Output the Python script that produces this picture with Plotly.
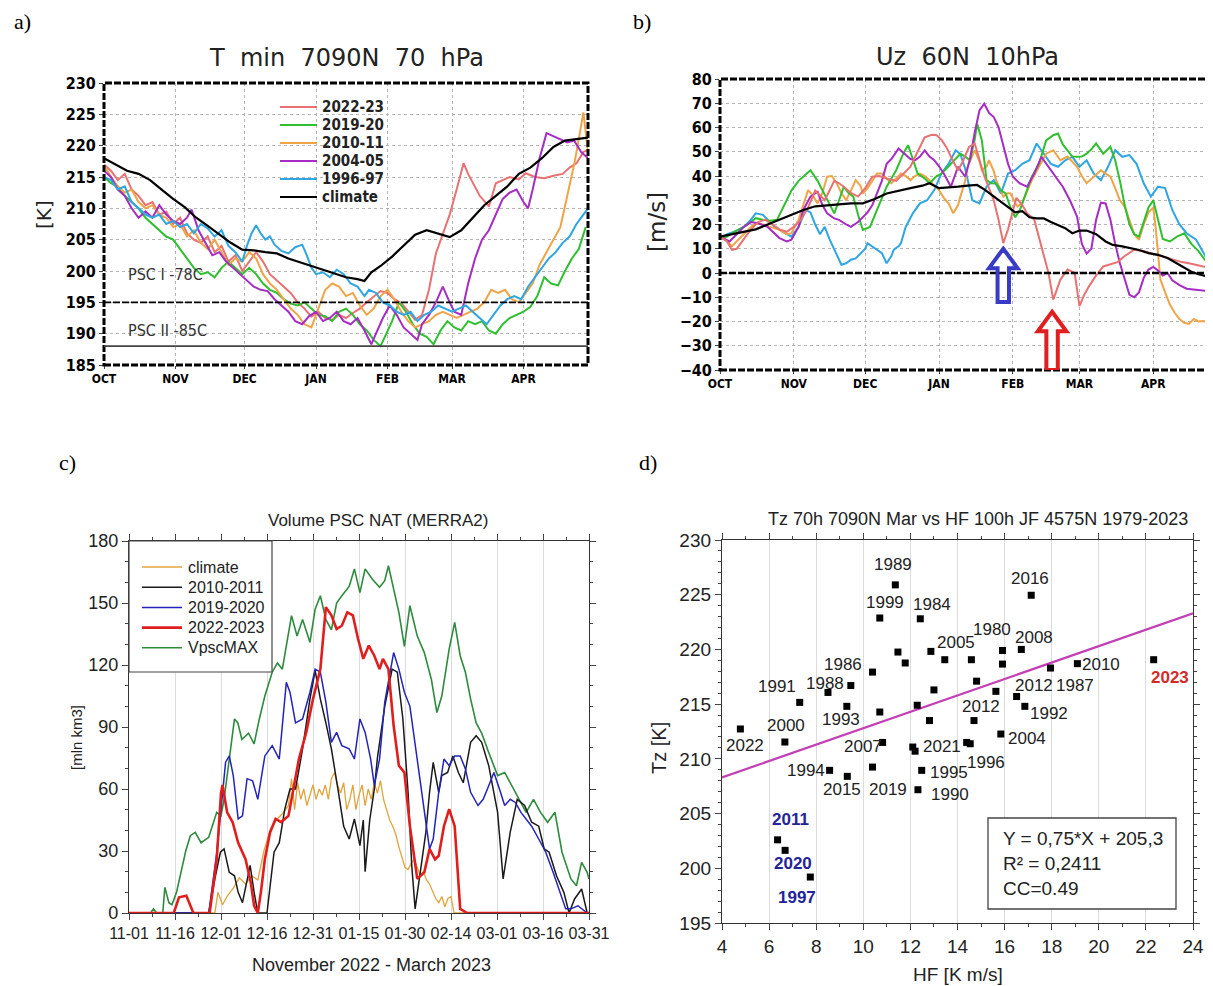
import plotly.graph_objects as go

W, H = 1213, 986          # browser window
OFF = 8                    # page body margin
FW, FH = W - OFF, H - OFF  # figure size so it fills the window

# ---------------- Panel a: T min 70 hPa (day 0 = 1 Oct) ----------------
a_days_clim = [0,5,10,15,20,25,30,35,40,45,50,55,60,65,70,75,80,85,90,95,100,105,110,113,116,120,125,130,135,140,145,150,155,160,165,170,175,180,185,190,195,200,205,210]
a_T_clim = [218,217,216,215.5,214.5,213,211.5,210.2,208.5,207.2,205.8,204.5,203.4,203.3,203.0,202.8,202.0,201.4,200.8,200.2,199.5,199.0,198.7,198.4,199.8,200.8,202.3,204.0,205.8,206.5,206.0,205.4,206.5,208.5,210.5,212.0,213.5,215.5,216.5,218.0,219.8,220.8,221.1,221.3]

a_days_2223 = [0,3,6,9,12,15,18,21,24,27,30,33,36,39,42,45,48,51,54,57,60,63,66,69,72,75,78,81,84,87,90,93,96,99,102,105,108,111,114,117,120,123,126,129,132,135,138,141,144,147,150,153,156,158,160,163,167,170,173,176,180,183,187,191,195,199,202,205,208,210]
a_T_2223 = [217,216,214.5,215.5,213,212,210.5,211,209,209.5,207.5,208.5,206,205,204.5,205.5,203,204,201.5,202.5,200,201.5,203,201.5,199.5,198.5,197.5,196.5,195,194,192.7,193.5,192.5,192.2,193,192.5,193.3,194,195,195.9,196.8,196.5,195.5,194.9,193.5,192.2,193,197,202.8,206,209,213,217.2,215.5,214,212,210.3,214,214.5,215,214.6,215.6,215,214.8,215.2,215.5,216.5,217.2,219,219.3]

a_days_1920 = [0,3,6,9,12,15,18,21,24,27,30,33,36,39,42,45,48,51,54,57,60,63,66,69,72,75,78,81,84,87,90,93,96,99,102,105,108,111,114,117,120,122,125,128,131,134,137,140,143,146,149,152,155,158,161,164,167,170,173,176,179,182,185,188,191,194,197,200,203,206,209]
a_T_1920 = [215,214,213.5,212,211,210,208.5,207.5,206.5,205.5,205,203.5,202,200.5,199.5,199.8,199,200.5,201.5,200.5,199.5,200.5,199.5,198,197,196.5,195.5,194.8,194.5,195,194,193,192.8,192,193.5,194,193,191.5,190.5,189,188,189.5,192,195,193.5,191.5,190,189.5,188.3,190.5,192,191,190.5,192,191.5,192,190.5,190,191.5,192.5,193,193.5,194.3,196,199,198,197.7,200,202,203.5,207]

a_days_1011 = [0,3,6,9,12,15,18,21,24,27,30,33,36,39,42,45,48,51,54,57,60,63,66,69,72,75,78,81,84,87,90,92,94,96,99,102,105,108,111,114,117,120,123,126,129,132,135,138,141,144,147,150,153,156,159,162,165,168,171,174,177,180,183,186,189,192,195,198,201,204,206,208,210]
a_T_1011 = [217,215,213.5,212.5,213,211,210,210.5,209,208.5,207,207.5,205.5,206.5,204.5,203.5,205,203,201,202,201.5,203,202,199.5,198,197,195.5,194,193,191.5,191,193,195,197,198,197.5,196,196.5,194.5,193,194,196,197,195.5,193.5,192,191,191.5,192,193,193.5,193,192.5,193,193.5,194,195,197,196.5,197,195.5,195,196.5,198,201,203,205,207,212,217,221,225.3,219]

a_days_0405 = [0,3,6,9,12,15,18,21,24,27,30,33,36,38,41,44,47,50,53,56,59,62,65,68,71,74,77,80,83,86,89,92,95,98,101,104,107,110,113,116,118,121,124,127,130,133,136,138,141,144,147,150,152,155,158,161,164,167,170,173,176,179,182,184,186,189,192,195,198,201,204,207,210]
a_T_0405 = [216,215,213,212,210,208.5,209.5,208.5,210.5,209,208,207.5,208.5,209.8,206.5,204.5,202.5,203,201.5,200.5,199.5,198.5,197.5,197,196.8,195.5,194.5,193.5,192,191.5,192.8,193.5,192,192.5,193.5,192,191.5,192.5,190.5,188.3,190,192.5,194.5,193,191,190,189,191.5,193,195,197.5,195,193.5,193,198,202,205,206.5,209,211.5,212.5,213,211,210,213,218,222,221.5,221,220.5,220.8,219,218]

a_days_9697 = [0,3,6,9,12,15,18,21,24,27,30,33,36,39,42,45,48,51,54,57,60,62,64,66,68,70,72,74,77,80,83,86,88,90,92,95,98,101,104,107,110,113,115,118,121,124,127,130,133,136,139,142,145,148,151,154,157,160,163,166,169,172,175,178,181,184,187,190,193,196,199,202,205,208,210]
a_T_9697 = [215,214.5,213,213.5,211,210,209,208.5,209,207.5,208,207,207.5,206,207.5,206.8,205.5,206.5,204,203,201.5,204,206,207.3,206,205,205.5,204.2,203.2,202.8,203.8,204.2,202.5,200.5,199.5,199.8,199,200.2,199.5,198,197.5,196,197,196.5,195,194.5,193.5,193,193.5,192,193,193.5,194.5,194,193.5,194,194.5,193.5,192.5,191.5,193,194.5,195.5,196,195.5,197.5,199,200.5,202,203,204.5,205.5,207.5,209,210]

psc_levels = [195, 188]
psc_labels = ["PSC I -78C", "PSC II -85C"]
month_days = [0, 31, 61, 92, 123, 151, 182]
month_labels = ["OCT", "NOV", "DEC", "JAN", "FEB", "MAR", "APR"]

# ---------------- Panel b: Uz 60N 10 hPa ----------------
b_days_clim = [0,5,10,15,20,25,31,35,40,45,50,55,60,65,70,75,80,85,88,92,96,100,104,108,111,115,118,121,124,127,130,133,136,139,142,145,148,151,154,158,162,165,169,172,176,180,184,188,191,195,198,201,204,207]
b_U_clim = [15,16,17,18,20,22,24.6,26,27.5,28,28.5,28.7,28.7,30.5,32.8,34,35,36,37,35,35.2,35.6,36,36.3,34.5,31.5,29.5,27,25,25.5,23,22.5,22.5,21,19.8,18.5,16.4,17.5,17.5,16,13,11.6,11,10.3,9.5,8.2,7.5,6.2,4.5,2,0.5,-0.5,-1.2,-1.5]

b_days_2223 = [0,3,5,7,10,13,16,19,22,25,28,31,34,37,40,42,44,46,48,50,52,55,58,61,64,67,70,74,77,80,83,86,89,91,93,95,98,100,102,104.6,107,109,111,113,115,117,119,121,123,124.5,127,129,132,135,138,140,143,146,149,151,153,155,158,161,164,167,170,174,178,181,185,190,194,197,200,203,207]
b_U_2223 = [15,13,9.5,10,14,18,21,22,20,18,17,19,22,27,34,32,30,34,38,37,35.6,33,31.5,35,39.7,40,39,38,41,43.8,50,56,57,56.8,55,52,46,42.4,46,52,53.4,47,40,35,30,22,12.3,18,26,31,28,24.6,22,11,0,-11,-2.7,1.4,0,-13.7,-9,-5.5,-1,2.7,3.5,4.5,7,9.6,9,8.2,7,5.5,4.5,4,3.5,2.7,2]

b_days_1920 = [0,3,6,10,13,15,18,21,24,27,30,33,36,38,41,43,45,48,50,52,54,56,58,60,63,66,68,70,72,74,77,79,81,83,86,88,91,93,95,97,99,101,103,105,107,108,110,112,114,116,118,120,122,124,126,128,131,134,137,140,142,144,146,148,150,152,154,156,158,161,164,166,168,170,172,174,176,178,180,182,184,186,189,192,195,198,201,204,207]
b_U_1920 = [14,15,17,19,21,22.6,22,21.5,22,28,34,38,40.5,42.4,38,34,30,24.6,30,35.6,33,31.5,24,17.8,19,26,31,35.6,39,42.4,49.2,52.7,47,41,39,37,40,41,43,45,47,49.2,48,46.5,55,61.6,54.7,38.3,37,36.9,34,32.8,27,23,26,31.5,39.7,45,54.7,56.8,57.5,53,50.6,48,47.9,48,49.2,51,53.4,49.2,52,46.5,38,28,20,16,15,21,27,30,22,14,13,15,16.4,12,9,5,3]

b_days_1011 = [0,3,5,8,10,13,15,18,21,25,28,30,33,35,37,39,41,43,45,47,49,51,53,55,57,59,60,62,64,66,68,70,72,74,76,78,80,82,84,86,88,90,92,94,96,98,100,101,103,104,106,107,109,110,112,113,115,116,118,119,121,122,124,125,127,128,131,134,137,140,143,146,148,150,152,154,157,160,162,164,166,168,170,172,174,176,178,180,182,183,185,187,189,191,193,195,197,199,201,203,205,207]
b_U_1011 = [15,13,11,14,16.4,19,20.5,20,19,17.8,16,16.4,21.9,28,34.2,32,28.7,33,39.7,40,37,33,30,34,38.3,36,32.8,35,38.3,41,41,39,37,39,41,40,38.3,40,41,40,38.3,36,34.2,31,28.7,24.6,28,31.5,38,43.8,48,50.6,46,42.4,44,46.5,42,38.3,34,31.5,33,32.8,29,27.4,29,31.5,38.3,43.8,49.2,50.6,46.5,48,46,43.8,40,37,39.7,42.4,41,39.7,35,30,27.4,22,16,13.7,20,25,27,19,-2.7,-8,-13,-16.4,-19,-20.5,-21,-19,-20,-19.8,-20.5,-21]

b_days_0405 = [0,4,7,10,13,16,20,23,25,28,30,33,35,38,41,43,45,48,50,53,55,58,60,62,64,66,68,70,72,75,78,80,82,84,86,88,90,92,94,97,100,103,105,107,109,111,113,115,117,119,121,123,126,129,132,135,138,141,144,147,150,152,154,156,158,160,162,164,166,168,170,172,174,176,178,180,182,184,186,188,190,193,196,199,202,205,207]
b_U_0405 = [15,13,16,19,21,20.5,19,16,14.4,13,13.7,19,26,31.5,33.5,28,24.6,22.5,21.9,20,19,21,23,25,28,32.8,38,45,47,51.3,48.6,47,46.5,48,50.6,48,46.5,44,41,35.6,43.8,39.7,47,58,67,69.8,66,64.3,60.2,53,45,39.7,36.9,35.6,41,47.9,43.8,39.7,35.6,30,23.3,12,8,10,22,29,28.7,22,12,4,-3,-9,-10,-8,-2,1.4,2.5,1,-1,0,-3,-5,-6.5,-6.8,-7,-7.5,-8.9]

b_days_9697 = [0,3,6,10,13,15,18,20,23,25,28,30,33,36,38,40,42,44,46,48,50,51,53,55,57,59,61,62,64,65,67,68,70,72,73,75,76,78,81,84,87,90,93,96,99,101,103,104,106,109,112,115,118,121,124,127,130,133,136,139,142,145,148,151,154,157,160,163,166,169,172,175,178,181,184,187,190,193,196,200,204,207]
b_U_9697 = [14,16,17,19,22,24.6,24,22,19,17.8,16,15,19,26,25,20,16,19,14,9.6,5,3.4,4,5.5,6,8.2,10,12.3,11,10.3,9,8.2,4,7,9.6,11,12.3,19,24.6,28.7,30,34.2,41,45,50.6,49,43,38.3,30,28.7,35.6,38.3,32.8,41,42.4,45,46.5,53.4,49.2,45,43.8,46.5,47.9,43.8,46.5,41,38.3,43.8,50.6,47.9,48.6,45,37,31.5,35.6,35,26,20,16.4,13.7,6.8,4.5]

# ---------------- Panel c: PSC NAT volume (day 0 = 1 Nov) ----------------
c_days_clim = [0,28,29,30.5,32,34,36,38,40,42,44,46,48,50,52,53,54,55,56,57,58,59,60,61,62,63,64,65,66,67,68,69,70,71,72,73,74,75,76,77,78,79,80,81,82,83,84,85,86,87,88,89,90,91,92,93,94,95,96,97,98,99,100,101,102,103,104,105,106,150]
c_V_clim = [0,0,10,4,8,12,17,14,18,16,30,40,45,48,52,65,50,63,55,60,52,57,62,55,60,57,62,55,65,68,62,58,63,50,55,62,50,57,62,52,60,55,63,58,64,55,50,45,42,38,32,27,22,21,24,26,22,18,20,16,14,10,7,5,8,3,7,8,0,0]

c_days_1011 = [0,26,28,29.8,31,32.7,34.4,35.6,37,38.5,39.5,40.8,42,45,47.3,49,50.8,52.5,54.3,56.6,59,60.7,62.4,64.2,66,68.3,70,71.8,73.5,75.3,76.4,77,78.5,80,81,83.4,85.8,87.5,89.3,91,92.2,93.3,95,96.8,98,99.2,101,102,103.9,105.6,107.4,109,111.4,113.2,115,117.3,120.2,122,124.3,126.6,129,131.3,133.6,135.4,137,139.4,141.8,143.5,145.3,147.6,149.4,150]
c_V_1011 = [0,0,16.5,29.4,31,19.7,18,10,5,16.5,23,10,0,0,29.4,34,50.3,60,60,79.4,103.5,117.3,103.5,92,79.4,58.4,42,35.8,45.5,32.6,45,20,45,60,75,100,118,116.5,94,58.4,23,2,21,39,58.4,72.9,58.4,66.5,68,76,68,63,82.6,85.8,82.6,71.3,48.7,16.5,39,55,52,43.9,42,31,29.4,18,10,0,6.8,11.6,0,0]

c_days_1920 = [0,26,28.6,30,31.5,32.7,34,35.6,37,38.5,40.3,42,44.3,46.7,49,51.3,52.5,54.3,56.6,59,60.7,62.4,64.2,66,67.7,69.4,71.8,73.5,75.3,77,78.8,80,81.7,83.4,85.2,86.3,88,89.8,91.6,94,96.3,98,99.2,101,102.7,104.4,106.2,108,109.7,111.4,113.8,115.5,117.3,119,120.8,122.5,124.3,126,127.8,129.5,131.3,133.6,135.9,138.3,140.6,142.4,144.1,146.4,149.4,150]
c_V_1920 = [0,0,29,48.7,73,76,66.5,45.5,47,65,64,55,76,81,74.5,111.6,106.8,92,93.9,106.8,118,116.5,102,82.6,87.4,81,79.4,74.5,93.9,87.4,74.5,61.6,74.5,102,116.5,126,118,106.8,100,74.5,48.7,31,35.8,58.4,74.5,71.3,76,76,69.7,58.4,52,55,61.6,68,60,52,55,53.5,48.7,45.5,42,35.8,29.4,19.7,10,2,2,3.5,0,0]

c_days_2223 = [0,14.6,16.3,18.7,21,26.3,28.6,30,30.5,32,33.8,35.6,38,39.7,40.8,42,43,44.3,46,47.8,49.6,52,53,55.4,57.8,60,62.4,64.2,66,67.7,69.4,71.2,73,74.7,76.4,78.2,80,81.7,82.8,84.6,86.3,88,89.8,91.6,94,96.3,98,99.8,101,102.7,104.4,106.2,108,110.3,150]
c_V_2223 = [0,0,7.6,8.4,0,0,26,58,62,48.7,43.9,34,26,14.8,3.5,0,10,26,39,45.5,44,47,55,74.5,87.4,103.5,118,148,144,137.4,139,145.5,144,132.6,123,129.4,124.5,118,123,118,90.6,71.3,68,42,16.5,19.7,31,26,27.7,42,50.3,42,2,0,0]

c_days_max = [0,7,8,9,11,11.7,13,14,15.5,17,18.5,20,21.6,23.5,26,28.6,30,31,32.7,34.4,35.5,36.8,39,40.8,42.5,44.3,46.7,48.4,50,51.5,53,54.8,56.6,59,60.7,62.4,64.2,66,67.7,69.4,71.8,73.5,75.3,77,79.3,81.7,83.4,84.6,86.3,88,89.8,91.6,94,96.3,98.6,100.4,102,104.4,106.2,108,109.7,111.4,113.2,115,117.3,120.2,122.5,124.9,127.2,129.5,131.9,134.2,136.5,138.9,141.2,144.1,145.9,147.6,149.4,150]
c_V_max = [0,0,2,0,0,12.4,5,4,10,19.7,30,37.4,39,34,36.6,48.7,47,55,75,93.9,92,84,87,81.8,93.9,105,116.5,121,118,130,143.9,134,142,131,147,153.5,142,137,150,153.5,158,166.5,155,166.5,161.6,157.6,160.8,168,157,145.5,129,148.7,134,126,113,97,105,127.7,140.6,124.5,116.5,103.5,92,87,77.7,66.5,68,61.6,55,48.7,55,48.7,43.9,48.7,29.4,16.5,13.2,24.5,19.7,16.5]

c_tick_days = [0,15,30,45,60,75,90,105,120,135,150]
c_tick_labels = ["11-01","11-16","12-01","12-16","12-31","01-15","01-30","02-14","03-01","03-16","03-31"]

# ---------------- Panel d: scatter Tz vs HF ----------------
d_hf = [4.78,6.67,7.30,8.50,9.47,9.30,8.57,9.32,10.39,10.70,10.70,11.36,10.82,10.39,11.47,11.78,12.42,12.10,12.20,12.29,12.32,12.48,12.81,12.87,13.00,13.46,14.39,14.54,14.59,14.70,14.81,15.63,15.91,15.91,15.84,16.51,16.71,16.86,17.13,17.95,19.09,22.33,6.36,6.68,7.75]
d_tz = [212.73,211.54,215.16,216.07,216.70,214.80,208.95,208.40,217.93,214.28,222.87,225.90,211.50,209.25,219.76,218.76,222.80,211.08,210.70,214.90,207.18,208.95,213.50,219.82,216.30,219.06,211.50,211.38,219.06,213.50,217.10,216.17,219.90,218.66,212.27,215.70,220.00,214.80,224.95,218.30,218.70,219.06,202.60,201.64,199.20]
d_years = ["2022","2000","1991","1988","1986","1993","1994","2015","","","1999","1989","2007","2019","","","1984","","2021","","1990","1995","","","","2005","","1996","","2012","","","1980","2012","2004","","2008","1992","2016","1987","2010","2023","2011","2020","1997"]
# label offsets (pixels, right / down)
d_lab_dx = [5,1,-23,-3,-8,-6,-24,-5,0,0,5,-2,-20,16,0,0,12,0,27,0,32,27,0,0,0,11,0,16,0,7,0,0,-10,32,26,0,13,24,-1,24,24,16,13,8,-13]
d_lab_dy = [17,-17,-16,-9,-21,13,0,13,0,0,-16,-20,4,22,0,0,-14,0,-5,0,5,2,0,0,0,-17,0,19,0,-14,0,0,-21,21,4,0,-12,7,-17,17,1,18,-20,13,20]
fit_slope, fit_icpt = 0.75, 205.3
fit_x = [4, 24]
fit_text = ["Y = 0,75*X + 205,3", "R\u00b2 = 0,2411", "CC=0.49"]

# ---------------- layout helpers (screen pixels -> paper) ----------------
def px(x):
    return (x - OFF) / FW

def py(y):
    return 1 - (y - OFF) / FH

def dom_x(p0, p1):
    return [px(p0), px(p1)]

def dom_y(top, bottom):
    return [py(bottom), py(top)]

GR_FONT = "Liberation Sans Narrow, DejaVu Sans Condensed, Arial Narrow, sans-serif"
AR_FONT = "Liberation Sans, Arial, sans-serif"
SERIF = "Liberation Serif, Times New Roman, serif"
HERSHEY = "DejaVu Sans, sans-serif"

fig = go.Figure()

a_series = [
    ("2022-23", a_days_2223, a_T_2223, "#e87272", 2),
    ("2019-20", a_days_1920, a_T_1920, "#2fbf2f", 2),
    ("2010-11", a_days_1011, a_T_1011, "#f0a448", 2),
    ("2004-05", a_days_0405, a_T_0405, "#a62cc4", 2),
    ("1996-97", a_days_9697, a_T_9697, "#2fa6e2", 2),
    ("climate", a_days_clim, a_T_clim, "black", 2.2),
]
for name, d, v, c, w in a_series:
    fig.add_trace(go.Scatter(x=d, y=v, mode="lines", name=name, line=dict(color=c, width=w),
                             xaxis="x", yaxis="y", showlegend=False))

b_series = [
    (b_days_9697, b_U_9697, "#2fa6e2"),
    (b_days_1011, b_U_1011, "#f0a448"),
    (b_days_1920, b_U_1920, "#2fbf2f"),
    (b_days_0405, b_U_0405, "#a62cc4"),
    (b_days_2223, b_U_2223, "#e87272"),
]
for d, v, c in b_series:
    fig.add_trace(go.Scatter(x=d, y=v, mode="lines", line=dict(color=c, width=2),
                             xaxis="x2", yaxis="y2", showlegend=False))
fig.add_trace(go.Scatter(x=b_days_clim, y=b_U_clim, mode="lines", line=dict(color="black", width=2.2),
                         xaxis="x2", yaxis="y2", showlegend=False))

c_series = {
    "VpscMAX": (c_days_max, c_V_max, "#2e8b3e", 1.6),
    "climate": (c_days_clim, c_V_clim, "#e3a33c", 1.3),
    "2010-2011": (c_days_1011, c_V_1011, "#1a1a1a", 1.5),
    "2019-2020": (c_days_1920, c_V_1920, "#2424b8", 1.5),
    "2022-2023": (c_days_2223, c_V_2223, "#e01e1e", 2.6),
}
for name, (d, v, c, w) in c_series.items():
    fig.add_trace(go.Scatter(x=d, y=v, mode="lines", name=name, line=dict(color=c, width=w),
                             xaxis="x3", yaxis="y3", showlegend=False))

fig.add_trace(go.Scatter(x=fit_x, y=[fit_slope * xv + fit_icpt for xv in fit_x], mode="lines",
                         line=dict(color="#c33fb5", width=2.2), xaxis="x4", yaxis="y4", showlegend=False))
fig.add_trace(go.Scatter(x=d_hf, y=d_tz, mode="markers",
                         marker=dict(symbol="square", size=7, color="black"),
                         xaxis="x4", yaxis="y4", showlegend=False))

grid_dot = dict(showgrid=True, gridcolor="#b4b4b4", griddash="dot", gridwidth=1.2)
gr_tick = dict(family=GR_FONT, size=16, color="black", weight="bold")
gr_xtick = dict(family=GR_FONT, size=12, color="black", weight="bold")

fig.update_layout(
    width=FW, height=FH, margin=dict(l=0, r=0, t=0, b=0, autoexpand=False),
    paper_bgcolor="white", plot_bgcolor="white", showlegend=False,
    xaxis=dict(domain=dom_x(104, 588), anchor="y", range=[0, 210], tickvals=month_days, ticktext=month_labels,
               tickfont=gr_xtick, ticks="outside", ticklen=3, zeroline=False, automargin=False, **grid_dot),
    yaxis=dict(domain=dom_y(83, 365), anchor="x", range=[185, 230], dtick=5, tickfont=gr_tick, ticks="outside",
               ticklen=4, zeroline=False, automargin=False, **grid_dot),
    xaxis2=dict(domain=dom_x(720, 1213), anchor="y2", range=[0, 207.1], tickvals=month_days, ticktext=month_labels,
                tickfont=gr_xtick, ticks="outside", ticklen=3, zeroline=False, automargin=False, **grid_dot),
    yaxis2=dict(domain=dom_y(79, 370), anchor="x2", range=[-40, 80], dtick=10, tickfont=gr_tick, ticks="outside",
                ticklen=4, zeroline=False, automargin=False, **grid_dot),
    xaxis3=dict(domain=dom_x(129, 589), anchor="y3", range=[0, 150], tickvals=c_tick_days, ticktext=c_tick_labels,
                tickfont=dict(family=AR_FONT, size=16, color="#222"), ticks="outside", ticklen=6,
                minor=dict(tickvals=[7.5 + 15 * i for i in range(10)], ticks="outside", ticklen=3),
                showline=True, linecolor="#333", linewidth=1.3, mirror="ticks", zeroline=False,
                showgrid=True, gridcolor="#dcdcdc", gridwidth=1, automargin=False),
    yaxis3=dict(domain=dom_y(541, 913), anchor="x3", range=[0, 180], dtick=30,
                tickfont=dict(family=AR_FONT, size=18, color="#222"),
                ticks="outside", ticklen=6, minor=dict(dtick=10, ticks="outside", ticklen=3),
                showline=True, linecolor="#333", linewidth=1.3, mirror="ticks", zeroline=False, showgrid=False,
                automargin=False),
    xaxis4=dict(domain=dom_x(722, 1193), anchor="y4", range=[4, 24], dtick=2,
                tickfont=dict(family=AR_FONT, size=19, color="#222"),
                ticks="outside", ticklen=6, minor=dict(dtick=1, ticks="outside", ticklen=3),
                showline=True, linecolor="#333", linewidth=1.3, mirror="ticks", zeroline=False,
                showgrid=True, gridcolor="#dcdcdc", gridwidth=1, automargin=False),
    yaxis4=dict(domain=dom_y(540, 923), anchor="x4", range=[195, 230], dtick=5,
                tickfont=dict(family=AR_FONT, size=19, color="#222"),
                ticks="outside", ticklen=6, minor=dict(dtick=1, ticks="outside", ticklen=3),
                showline=True, linecolor="#333", linewidth=1.3, mirror="ticks", zeroline=False, showgrid=False,
                automargin=False),
)

shapes = []
ann = []

def pa(x, y, text, size, family, color="black", xanchor="center", angle=0, weight="normal"):
    ann.append(dict(x=px(x), y=py(y), xref="paper", yref="paper", text=text, showarrow=False,
                    xanchor=xanchor, yanchor="middle", textangle=angle,
                    font=dict(size=size, family=family, color=color, weight=weight)))

def pline(x0, x1, y, color, width):
    shapes.append(dict(type="line", xref="paper", yref="paper", x0=px(x0), x1=px(x1), y0=py(y), y1=py(y),
                       line=dict(color=color, width=width), layer="above"))

# GrADS-style dashed frames
for xr, yr in (("x", "y"), ("x2", "y2")):
    shapes.append(dict(type="rect", xref=f"{xr} domain", yref=f"{yr} domain", x0=0, x1=1, y0=0, y1=1,
                       line=dict(color="black", width=3, dash="7px,2px"), layer="above"))
# PSC thresholds
shapes.append(dict(type="line", xref="x domain", yref="y", x0=0, x1=1, y0=psc_levels[0], y1=psc_levels[0],
                   line=dict(color="black", width=1.8, dash="7px,2px")))
shapes.append(dict(type="line", xref="x domain", yref="y", x0=0, x1=1, y0=psc_levels[1], y1=psc_levels[1],
                   line=dict(color="#444", width=1.8)))
# zero wind line
shapes.append(dict(type="line", xref="x2 domain", yref="y2", x0=0, x1=1, y0=0, y1=0,
                   line=dict(color="black", width=2.5, dash="7px,2px")))

def up_arrow(cx, tip, base, color):
    hw, sw, hh = 6.0, 2.4, 8.0
    hb = tip - hh
    path = (f"M {cx},{tip} L {cx+hw},{hb} L {cx+sw},{hb} L {cx+sw},{base} L {cx-sw},{base} "
            f"L {cx-sw},{hb} L {cx-hw},{hb} Z")
    return dict(type="path", xref="x2", yref="y2", path=path, line=dict(color=color, width=4),
                fillcolor="rgba(0,0,0,0)", layer="above")

shapes.append(up_arrow(119, 10, -12, "#3a3ac8"))
shapes.append(up_arrow(139.5, -16, -40, "#e02020"))

# legend of panel a (no frame)
for i, (name, d, v, c, w) in enumerate(a_series):
    yy = 107 + 18 * i
    pline(280, 317, yy, c, w)
    pa(320, yy, name, 15, GR_FONT, "#222", xanchor="left", weight="bold")

# legend of panel c (framed)
shapes.append(dict(type="rect", xref="paper", yref="paper", x0=px(129), x1=px(272), y0=py(672), y1=py(541),
                   line=dict(color="#444", width=1.2), fillcolor="white", layer="above"))
for i, name in enumerate(["climate", "2010-2011", "2019-2020", "2022-2023", "VpscMAX"]):
    d, v, c, w = c_series[name]
    yy = 567 + 20.2 * i
    pline(142, 182, yy, c, w)
    pa(186, yy, name, 16, AR_FONT, "#222", xanchor="left")

# equation box in panel d
shapes.append(dict(type="rect", xref="paper", yref="paper", x0=px(988), x1=px(1176), y0=py(909), y1=py(818),
                   line=dict(color="#444", width=1.3), fillcolor="white"))
fig.update_layout(shapes=shapes)

pa(22, 22, "a)", 22, SERIF)
pa(642, 22, "b)", 22, SERIF)
pa(68, 462, "c)", 22, SERIF)
pa(648, 462, "d)", 22, SERIF)

NB = "\u00a0"
pa(346, 58, f"T{NB*2}min{NB*2}7090N{NB*2}70{NB*2}hPa", 24, HERSHEY, "#222")
pa(968, 57, f"Uz{NB*2}60N{NB*2}10hPa", 24, HERSHEY, "#222")
pa(44, 215, "[K]", 20, HERSHEY, "#222", angle=-90)
pa(657, 222, "[m/s]", 23, HERSHEY, "#222", angle=-90)
pa(126, 274, psc_labels[0], 16, GR_FONT, "#333", xanchor="left")
pa(126, 331, psc_labels[1], 16, GR_FONT, "#333", xanchor="left")

pa(378, 520, "Volume PSC NAT (MERRA2)", 17, AR_FONT, "#222")
pa(76, 738, "[mln km3]", 15, AR_FONT, "#222", angle=-90)
pa(371, 965, "November 2022 - March 2023", 18, AR_FONT, "#222")

pa(978, 519, "Tz 70h 7090N Mar vs HF 100h JF 4575N 1979-2023", 18, AR_FONT, "#222")
pa(659, 748, "Tz [K]", 20, AR_FONT, "#222", angle=-90)
pa(958, 974, "HF [K m/s]", 19, AR_FONT, "#222")
for i, t in enumerate(fit_text):
    pa(1001, 838 + 25 * i, t, 19, AR_FONT, "#222", xanchor="left")

special = {"2023": "#d42a2a", "2011": "#23239a", "2020": "#23239a", "1997": "#23239a"}
for x, y, lab, dx, dy in zip(d_hf, d_tz, d_years, d_lab_dx, d_lab_dy):
    if not lab:
        continue
    col = special.get(lab, "#222")
    ann.append(dict(x=x, y=y, xref="x4", yref="y4", text=lab, showarrow=False, xshift=dx, yshift=-dy,
                    font=dict(size=17, family=AR_FONT, color=col, weight="bold" if lab in special else "normal")))

fig.update_layout(annotations=ann)
fig.write_html("out.html")
